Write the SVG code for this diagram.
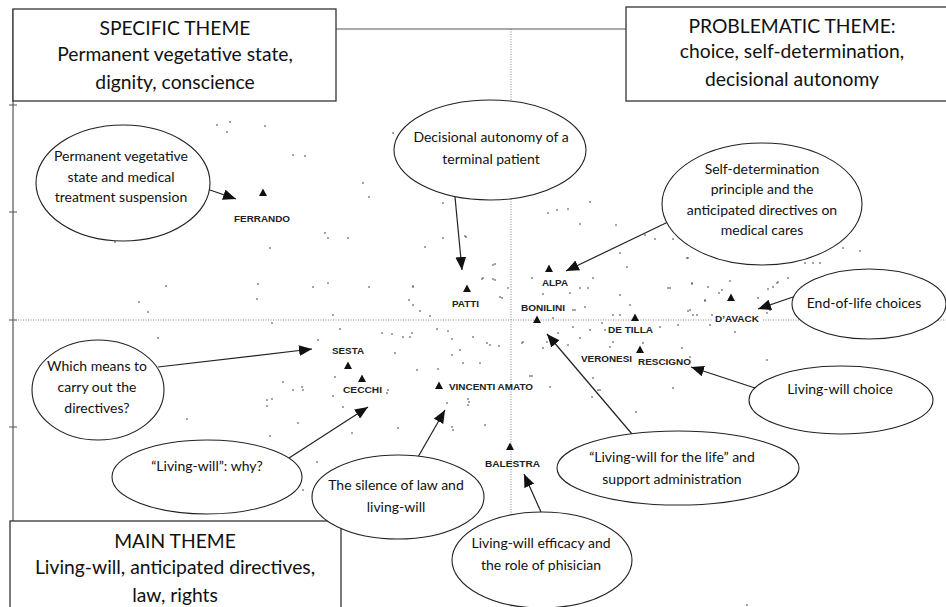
<svg xmlns="http://www.w3.org/2000/svg" xmlns:xlink="http://www.w3.org/1999/xlink" width="946" height="607" viewBox="0 0 946 607">
<style>
.box{fill:#fff;stroke:#333;stroke-width:1.3}
.ell{fill:#fff;stroke:#222;stroke-width:1.1}
.ax{stroke:#555;stroke-width:1.2;fill:none}
.dot{stroke:#888;stroke-width:1;stroke-dasharray:1,1.5;fill:none}
.con{stroke:#222;stroke-width:1.2;fill:none}
.tt{font-family:Lato,"Open Sans",sans-serif;font-size:19.3px;fill:#111;text-anchor:middle}
.et{font-family:Lato,"Open Sans",sans-serif;font-size:14px;fill:#111;text-anchor:middle}
.lb{font-family:"Liberation Sans",Arial,sans-serif;font-weight:bold;font-size:9px;fill:#222}
.pt{fill:#111}
.d{fill:#333}
</style>
<defs>
<marker id="ah" viewBox="0 0 12 10" refX="12" refY="5" markerWidth="13" markerHeight="11" markerUnits="userSpaceOnUse" orient="auto">
<path d="M0,0 L12,5 L0,10 Z" fill="#111"/>
</marker>
<path id="tri" d="M0,-4.5 L4,3 L-4,3 Z"/>
</defs>
<rect width="946" height="607" fill="#fff"/>
<g id="axes">
<path class="ax" d="M13,9 V521"/>
<path class="ax" d="M9,105 H17 M9,212 H17 M9,320 H17 M9,427 H17"/>
<path class="dot" d="M13,320 H946"/>
<path class="dot" d="M511,29 V607"/>
<path class="ax" d="M336,29 H626"/>
</g>
<g id="scatter">
<circle class="d" cx="217" cy="125" r="0.8"/><circle class="d" cx="230" cy="122" r="0.8"/><circle class="d" cx="227" cy="132" r="0.8"/><circle class="d" cx="265" cy="126" r="0.8"/><circle class="d" cx="293" cy="155" r="0.8"/><circle class="d" cx="305" cy="156" r="0.8"/><circle class="d" cx="363" cy="183" r="0.8"/><circle class="d" cx="369" cy="197" r="0.8"/><circle class="d" cx="443" cy="203" r="0.8"/><circle class="d" cx="325" cy="233" r="0.8"/><circle class="d" cx="328" cy="238" r="0.8"/><circle class="d" cx="348" cy="238" r="0.8"/><circle class="d" cx="443" cy="238" r="0.8"/><circle class="d" cx="466" cy="237" r="0.8"/><circle class="d" cx="270" cy="248" r="0.8"/><circle class="d" cx="425" cy="247" r="0.8"/><circle class="d" cx="115" cy="242" r="0.8"/><circle class="d" cx="166" cy="286" r="0.8"/><circle class="d" cx="258" cy="284" r="0.8"/><circle class="d" cx="313" cy="287" r="0.8"/><circle class="d" cx="328" cy="283" r="0.8"/><circle class="d" cx="369" cy="287" r="0.8"/><circle class="d" cx="413" cy="286" r="0.8"/><circle class="d" cx="257" cy="299" r="0.8"/><circle class="d" cx="393" cy="133" r="0.8"/>
<circle class="d" cx="590" cy="202" r="0.8"/><circle class="d" cx="548" cy="213" r="0.8"/><circle class="d" cx="557" cy="210" r="0.8"/><circle class="d" cx="568" cy="209" r="0.8"/><circle class="d" cx="580" cy="224" r="0.8"/><circle class="d" cx="616" cy="225" r="0.8"/><circle class="d" cx="645" cy="235" r="0.8"/><circle class="d" cx="655" cy="239" r="0.8"/><circle class="d" cx="673" cy="239" r="0.8"/><circle class="d" cx="620" cy="253" r="0.8"/><circle class="d" cx="688" cy="258" r="0.8"/><circle class="d" cx="843" cy="248" r="0.8"/><circle class="d" cx="860" cy="251" r="0.8"/><circle class="d" cx="805" cy="263" r="0.8"/><circle class="d" cx="813" cy="263" r="0.8"/><circle class="d" cx="820" cy="263" r="0.8"/><circle class="d" cx="493" cy="265" r="0.8"/><circle class="d" cx="532" cy="278" r="0.8"/><circle class="d" cx="483" cy="278" r="0.8"/><circle class="d" cx="495" cy="280" r="0.8"/><circle class="d" cx="593" cy="278" r="0.8"/><circle class="d" cx="580" cy="288" r="0.8"/><circle class="d" cx="543" cy="294" r="0.8"/><circle class="d" cx="570" cy="293" r="0.8"/><circle class="d" cx="620" cy="295" r="0.8"/><circle class="d" cx="670" cy="288" r="0.8"/><circle class="d" cx="692" cy="284" r="0.8"/><circle class="d" cx="708" cy="287" r="0.8"/><circle class="d" cx="722" cy="290" r="0.8"/><circle class="d" cx="773" cy="287" r="0.8"/><circle class="d" cx="777" cy="283" r="0.8"/><circle class="d" cx="788" cy="278" r="0.8"/><circle class="d" cx="502" cy="298" r="0.8"/>
<circle class="d" cx="495" cy="264" r="0.8"/><circle class="d" cx="413" cy="287" r="0.8"/><circle class="d" cx="482" cy="279" r="0.8"/><circle class="d" cx="493" cy="279" r="0.8"/><circle class="d" cx="500" cy="297" r="0.8"/><circle class="d" cx="409" cy="300" r="0.8"/><circle class="d" cx="413" cy="305" r="0.8"/><circle class="d" cx="420" cy="311" r="0.8"/><circle class="d" cx="430" cy="316" r="0.8"/><circle class="d" cx="508" cy="288" r="0.8"/><circle class="d" cx="588" cy="288" r="0.8"/><circle class="d" cx="627" cy="267" r="0.8"/><circle class="d" cx="668" cy="288" r="0.8"/><circle class="d" cx="630" cy="305" r="0.8"/><circle class="d" cx="573" cy="310" r="0.8"/><circle class="d" cx="585" cy="307" r="0.8"/><circle class="d" cx="553" cy="318" r="0.8"/><circle class="d" cx="613" cy="315" r="0.8"/><circle class="d" cx="620" cy="315" r="0.8"/>
<circle class="d" cx="437" cy="329" r="0.8"/><circle class="d" cx="448" cy="331" r="0.8"/><circle class="d" cx="452" cy="339" r="0.8"/><circle class="d" cx="392" cy="334" r="0.8"/><circle class="d" cx="412" cy="333" r="0.8"/><circle class="d" cx="410" cy="337" r="0.8"/><circle class="d" cx="473" cy="337" r="0.8"/><circle class="d" cx="490" cy="345" r="0.8"/><circle class="d" cx="499" cy="346" r="0.8"/><circle class="d" cx="460" cy="350" r="0.8"/><circle class="d" cx="452" cy="355" r="0.8"/><circle class="d" cx="395" cy="353" r="0.8"/><circle class="d" cx="480" cy="363" r="0.8"/><circle class="d" cx="463" cy="363" r="0.8"/><circle class="d" cx="417" cy="370" r="0.8"/><circle class="d" cx="438" cy="369" r="0.8"/><circle class="d" cx="523" cy="342" r="0.8"/><circle class="d" cx="543" cy="348" r="0.8"/><circle class="d" cx="558" cy="333" r="0.8"/><circle class="d" cx="573" cy="327" r="0.8"/><circle class="d" cx="580" cy="338" r="0.8"/><circle class="d" cx="590" cy="330" r="0.8"/><circle class="d" cx="610" cy="347" r="0.8"/><circle class="d" cx="532" cy="376" r="0.8"/><circle class="d" cx="550" cy="387" r="0.8"/><circle class="d" cx="593" cy="378" r="0.8"/><circle class="d" cx="592" cy="397" r="0.8"/><circle class="d" cx="600" cy="390" r="0.8"/><circle class="d" cx="636" cy="412" r="0.8"/><circle class="d" cx="673" cy="388" r="0.8"/><circle class="d" cx="468" cy="399" r="0.8"/><circle class="d" cx="468" cy="405" r="0.8"/><circle class="d" cx="447" cy="403" r="0.8"/><circle class="d" cx="453" cy="430" r="0.8"/><circle class="d" cx="485" cy="425" r="0.8"/><circle class="d" cx="398" cy="428" r="0.8"/><circle class="d" cx="387" cy="393" r="0.8"/>
<circle class="d" cx="158" cy="338" r="0.8"/><circle class="d" cx="148" cy="312" r="0.8"/><circle class="d" cx="139" cy="302" r="0.8"/><circle class="d" cx="272" cy="323" r="0.8"/><circle class="d" cx="333" cy="315" r="0.8"/><circle class="d" cx="340" cy="329" r="0.8"/><circle class="d" cx="382" cy="333" r="0.8"/><circle class="d" cx="403" cy="337" r="0.8"/><circle class="d" cx="318" cy="340" r="0.8"/><circle class="d" cx="335" cy="377" r="0.8"/><circle class="d" cx="333" cy="396" r="0.8"/><circle class="d" cx="343" cy="407" r="0.8"/><circle class="d" cx="283" cy="382" r="0.8"/><circle class="d" cx="293" cy="390" r="0.8"/><circle class="d" cx="302" cy="387" r="0.8"/><circle class="d" cx="303" cy="390" r="0.8"/><circle class="d" cx="267" cy="400" r="0.8"/><circle class="d" cx="272" cy="399" r="0.8"/><circle class="d" cx="267" cy="406" r="0.8"/><circle class="d" cx="187" cy="419" r="0.8"/><circle class="d" cx="270" cy="436" r="0.8"/><circle class="d" cx="298" cy="423" r="0.8"/><circle class="d" cx="352" cy="433" r="0.8"/><circle class="d" cx="388" cy="390" r="0.8"/><circle class="d" cx="317" cy="462" r="0.8"/><circle class="d" cx="303" cy="490" r="0.8"/><circle class="d" cx="469" cy="402" r="0.8"/><circle class="d" cx="452" cy="427" r="0.8"/>
<circle class="d" cx="575" cy="310" r="0.8"/><circle class="d" cx="690" cy="310" r="0.8"/><circle class="d" cx="697" cy="315" r="0.8"/><circle class="d" cx="705" cy="300" r="0.8"/><circle class="d" cx="678" cy="325" r="0.8"/><circle class="d" cx="660" cy="327" r="0.8"/><circle class="d" cx="712" cy="315" r="0.8"/><circle class="d" cx="605" cy="330" r="0.8"/><circle class="d" cx="602" cy="323" r="0.8"/><circle class="d" cx="547" cy="342" r="0.8"/><circle class="d" cx="568" cy="345" r="0.8"/><circle class="d" cx="522" cy="343" r="0.8"/><circle class="d" cx="487" cy="343" r="0.8"/><circle class="d" cx="613" cy="342" r="0.8"/><circle class="d" cx="690" cy="357" r="0.8"/><circle class="d" cx="643" cy="343" r="0.8"/><circle class="d" cx="735" cy="332" r="0.8"/><circle class="d" cx="767" cy="360" r="0.8"/><circle class="d" cx="530" cy="376" r="0.8"/><circle class="d" cx="598" cy="390" r="0.8"/><circle class="d" cx="747" cy="605" r="0.8"/>
<circle class="d" cx="687" cy="258" r="0.8"/><circle class="d" cx="692" cy="283" r="0.8"/><circle class="d" cx="730" cy="281" r="0.8"/><circle class="d" cx="719" cy="293" r="0.8"/><circle class="d" cx="705" cy="301" r="0.8"/><circle class="d" cx="778" cy="282" r="0.8"/><circle class="d" cx="768" cy="289" r="0.8"/><circle class="d" cx="758" cy="298" r="0.8"/><circle class="d" cx="770" cy="310" r="0.8"/><circle class="d" cx="767" cy="313" r="0.8"/><circle class="d" cx="688" cy="311" r="0.8"/><circle class="d" cx="693" cy="315" r="0.8"/><circle class="d" cx="710" cy="325" r="0.8"/><circle class="d" cx="682" cy="348" r="0.8"/><circle class="d" cx="465" cy="236" r="0.8"/>
</g>
<g id="box-specific"><rect class="box" x="13" y="9" width="323" height="92"/>
<text class="tt" x="175" y="35">SPECIFIC THEME</text><text class="tt" x="175" y="61">Permanent vegetative state,</text><text class="tt" x="175" y="89">dignity, conscience</text></g>
<g id="box-problematic"><rect class="box" x="626" y="7" width="322" height="94"/>
<text class="tt" x="792" y="33">PROBLEMATIC THEME:</text><text class="tt" x="792" y="58">choice, self-determination,</text><text class="tt" x="792" y="86">decisional autonomy</text></g>
<g id="box-main"><rect class="box" x="10" y="521" width="331" height="95"/>
<text class="tt" x="175" y="548">MAIN THEME</text><text class="tt" x="175" y="574">Living-will, anticipated directives,</text><text class="tt" x="175" y="602">law, rights</text></g>
<g id="points">
<g id="p-ferrando"><use xlink:href="#tri" class="pt" x="263" y="193"/><text class="lb" x="234" y="222" textLength="56" lengthAdjust="spacingAndGlyphs">FERRANDO</text></g>
<g id="p-patti"><use xlink:href="#tri" class="pt" x="467" y="289"/><text class="lb" x="452" y="307" textLength="27" lengthAdjust="spacingAndGlyphs">PATTI</text></g>
<g id="p-alpa"><use xlink:href="#tri" class="pt" x="549" y="269"/><text class="lb" x="542" y="286" textLength="26" lengthAdjust="spacingAndGlyphs">ALPA</text></g>
<g id="p-bonilini"><use xlink:href="#tri" class="pt" x="537" y="320"/><text class="lb" x="521" y="311" textLength="44" lengthAdjust="spacingAndGlyphs">BONILINI</text></g>
<g id="p-davack"><use xlink:href="#tri" class="pt" x="731" y="298"/><rect x="713" y="314" width="49" height="10" fill="#fff"/><text class="lb" x="715" y="322" textLength="44" lengthAdjust="spacingAndGlyphs">D’AVACK</text></g>
<g id="p-detilla"><use xlink:href="#tri" class="pt" x="635" y="318"/><text class="lb" x="608" y="333" textLength="45" lengthAdjust="spacingAndGlyphs">DE TILLA</text></g>
<g id="p-veronesi"><text class="lb" x="581" y="362" textLength="51" lengthAdjust="spacingAndGlyphs">VERONESI</text></g>
<g id="p-rescigno"><use xlink:href="#tri" class="pt" x="640" y="350"/><text class="lb" x="638" y="365" textLength="53" lengthAdjust="spacingAndGlyphs">RESCIGNO</text></g>
<g id="p-vincenti"><use xlink:href="#tri" class="pt" x="439" y="386"/><text class="lb" x="449" y="390" textLength="84" lengthAdjust="spacingAndGlyphs">VINCENTI AMATO</text></g>
<g id="p-sesta"><use xlink:href="#tri" class="pt" x="348" y="366"/><text class="lb" x="332" y="354" textLength="32" lengthAdjust="spacingAndGlyphs">SESTA</text></g>
<g id="p-cecchi"><use xlink:href="#tri" class="pt" x="362" y="379"/><text class="lb" x="343" y="393" textLength="39" lengthAdjust="spacingAndGlyphs">CECCHI</text></g>
<g id="p-balestra"><use xlink:href="#tri" class="pt" x="510" y="447"/><text class="lb" x="485" y="467" textLength="55" lengthAdjust="spacingAndGlyphs">BALESTRA</text></g>
</g>
<g id="connectors">
<path class="con" marker-end="url(#ah)" d="M210,190 L236,199"/>
<path class="con" marker-end="url(#ah)" d="M455,197 L462,270"/>
<path class="con" marker-end="url(#ah)" d="M668,222 L566,271"/>
<path class="con" marker-end="url(#ah)" d="M796,296 L758,309"/>
<path class="con" marker-end="url(#ah)" d="M755,388 L691,367"/>
<path class="con" marker-end="url(#ah)" d="M632,434 L547,334"/>
<path class="con" marker-end="url(#ah)" d="M541,512 L524,474"/>
<path class="con" marker-end="url(#ah)" d="M418,457 L445,410"/>
<path class="con" marker-end="url(#ah)" d="M289,458 L368,407"/>
<path class="con" marker-end="url(#ah)" d="M158,367 L312,349"/>
</g>
<g id="e-pvs"><ellipse class="ell" cx="123" cy="183" rx="87" ry="58"/><text class="et" x="121" y="161">Permanent vegetative</text><text class="et" x="121" y="182">state and medical</text><text class="et" x="121" y="202">treatment suspension</text></g>
<g id="e-decisional"><ellipse class="ell" cx="490" cy="150" rx="96" ry="50"/><text class="et" x="491" y="142">Decisional autonomy of a</text><text class="et" x="491" y="164">terminal patient</text></g>
<g id="e-selfdet"><ellipse class="ell" cx="762" cy="204" rx="100" ry="61"/><text class="et" x="762" y="174">Self-determination</text><text class="et" x="762" y="194">principle and the</text><text class="et" x="762" y="215">anticipated directives on</text><text class="et" x="762" y="235">medical cares</text></g>
<g id="e-endoflife"><ellipse class="ell" cx="869" cy="304" rx="77" ry="35"/><text class="et" x="864" y="308">End-of-life choices</text></g>
<g id="e-lwchoice"><ellipse class="ell" cx="841" cy="400" rx="92" ry="34"/><text class="et" x="840" y="394">Living-will choice</text></g>
<g id="e-lwlife"><ellipse class="ell" cx="678" cy="468" rx="121" ry="37"/><text class="et" x="672" y="462">“Living-will for the life” and</text><text class="et" x="672" y="484">support administration</text></g>
<g id="e-efficacy"><ellipse class="ell" cx="542" cy="560" rx="90" ry="48"/><text class="et" x="541" y="548">Living-will efficacy and</text><text class="et" x="541" y="570">the role of phisician</text></g>
<g id="e-silence"><ellipse class="ell" cx="398" cy="497" rx="86" ry="42"/><text class="et" x="396" y="490">The silence of law and</text><text class="et" x="396" y="512">living-will</text></g>
<g id="e-why"><ellipse class="ell" cx="207" cy="477" rx="95" ry="37"/><text class="et" x="207" y="471">“Living-will”: why?</text></g>
<g id="e-means"><ellipse class="ell" cx="98" cy="390" rx="66" ry="50"/><text class="et" x="97" y="371">Which means to</text><text class="et" x="97" y="392">carry out the</text><text class="et" x="97" y="413">directives?</text></g>
</svg>
